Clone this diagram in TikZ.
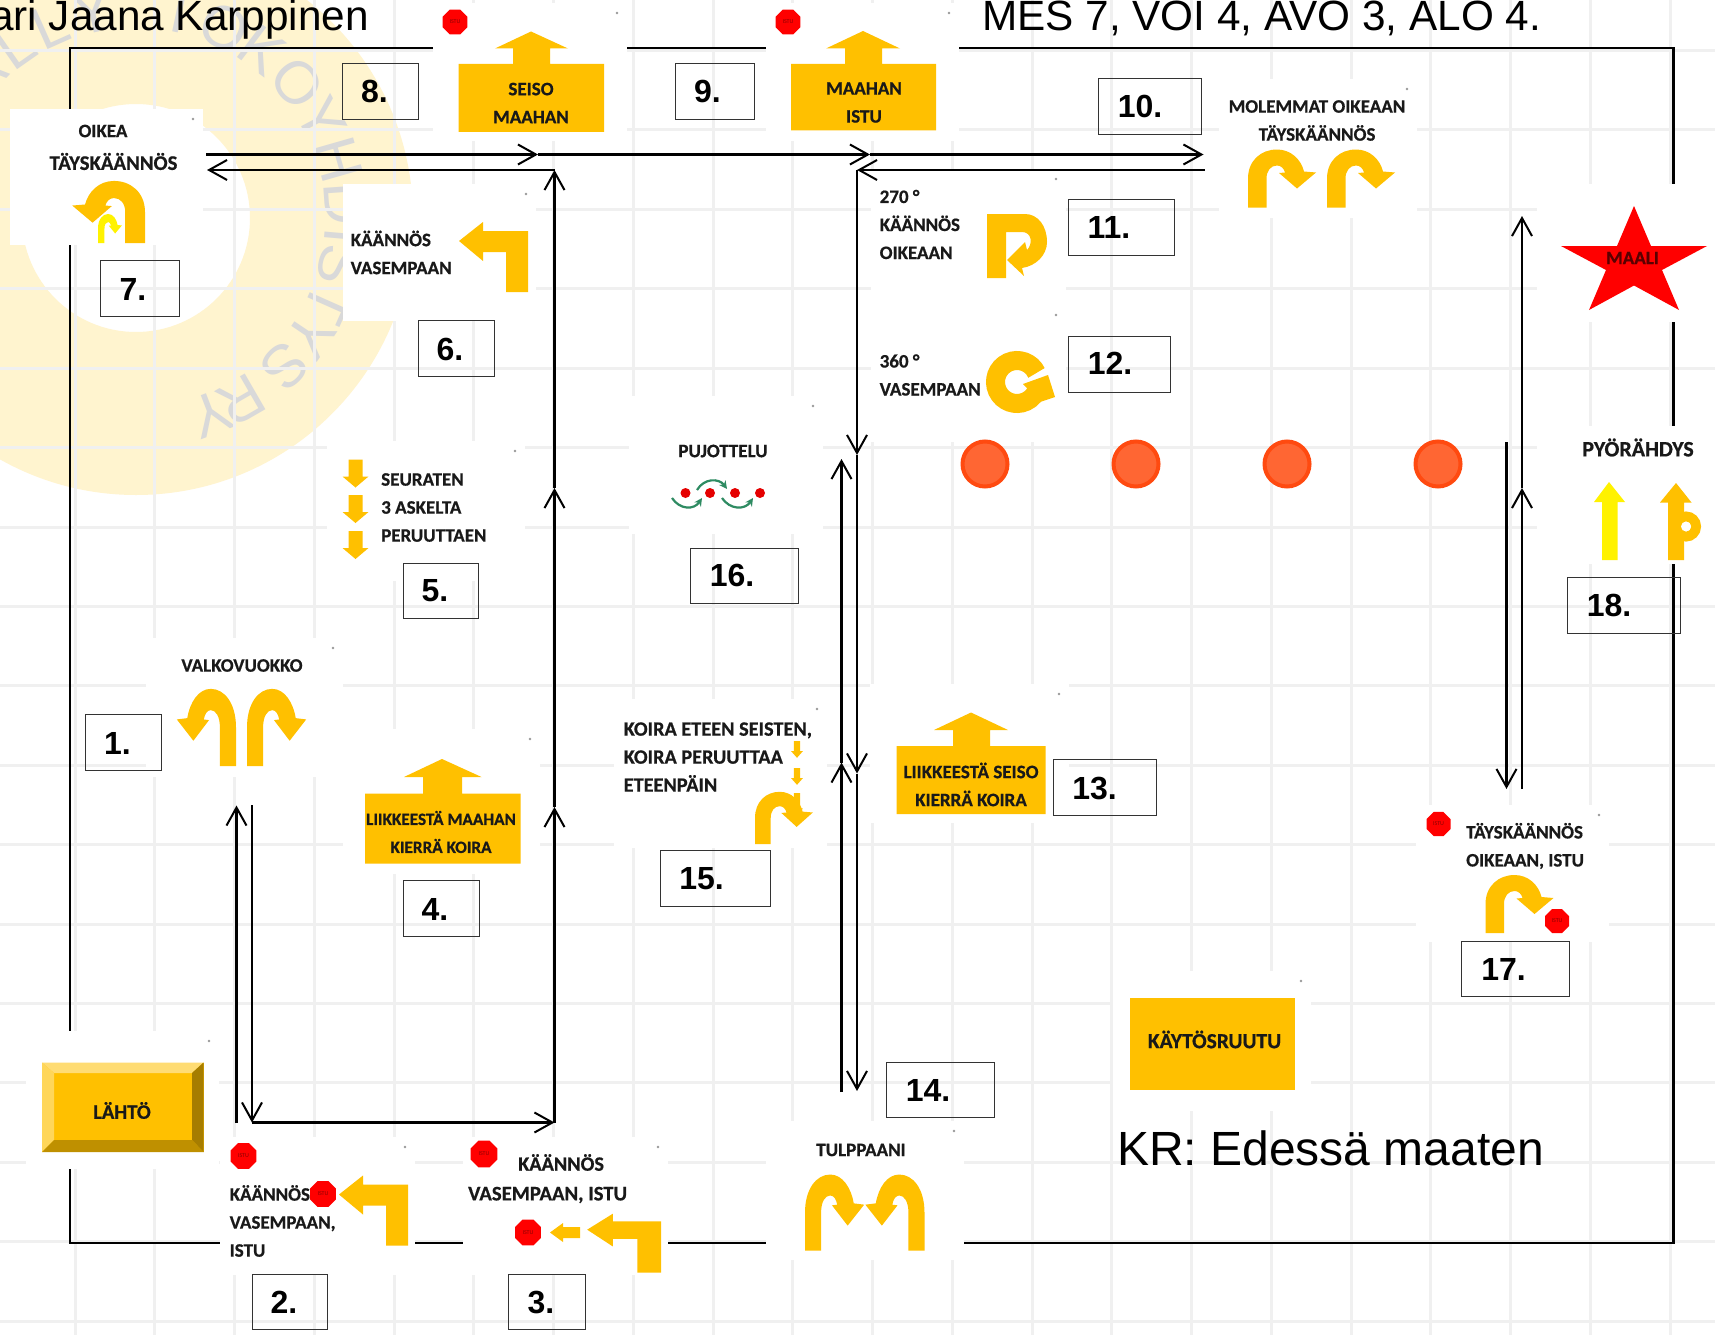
\documentclass[tikz,border=0pt]{standalone}
\usepackage{fontspec}
\setmainfont{Liberation Sans}
\newfontfamily\carlito[BoldFeatures={FakeBold=0.6}]{Carlito}
\usetikzlibrary{arrows.meta,shapes.geometric}
\definecolor{amber}{HTML}{FFC000}
\definecolor{ringtone}{HTML}{FFF4CF}
\definecolor{gridtone}{HTML}{F0F0F0}
\definecolor{conefill}{HTML}{FF6633}
\definecolor{coneedge}{HTML}{FF4A10}
\definecolor{weavegreen}{HTML}{2E8B62}
\newcommand{\lblsize}{\carlito\bfseries\fontsize{19}{28}\selectfont}

\tikzset{
  lbl/.style={font=\lblsize,text=black!90,align=center,inner sep=0pt},
  lblleft/.style={lbl,align=left,anchor=west},
  fs/.style={font=\carlito\bfseries\fontsize{#1}{28}\selectfont},
  numtxt/.style={font=\bfseries\fontsize{32}{32}\selectfont,inner sep=0pt},
  numbox/.style={draw=black!80,line width=1pt},
  bigtxt/.style={font=\fontsize{42.3}{42}\selectfont,inner sep=0pt},
  wmark/.style={font=\fontsize{60}{60}\selectfont,text=black!15,inner sep=0pt},
  stopsign/.style={regular polygon,regular polygon sides=8,fill=red,text=red!55!black,
    inner sep=0pt,font=\carlito\fontsize{6}{6}\selectfont},
  cone/.style={circle,fill=conefill,draw=coneedge,line width=4pt,minimum size=45pt,inner sep=0pt},
  weave/.style={weavegreen,line width=2.2pt,-{Stealth[length=8pt,width=8pt]}},
  arr/.style={line width=2.2pt,-{Straight Barb[length=18pt,width=20pt,line width=2pt]}},
  pics/uright/.style={code={
    \path[pic actions] (0,0) -- (0,-29) .. controls (0,-47) and (13,-58) .. (29,-58)
      .. controls (43,-58) and (53,-48) .. (56,-36) -- (68,-35) -- (49,-19) -- (31,-34.5) -- (37,-35)
      .. controls (36,-39) and (33,-42) .. (29,-42) .. controls (23,-42) and (18.5,-37) .. (18.5,-29)
      -- (18.5,0) -- cycle;
  }},
  pics/lturn/.style={code={
    \path[pic actions] (0,0) -- (0,-61) -- (-45,-61) -- (-45,-70) -- (-69,-51) -- (-45,-31)
      -- (-45,-40) -- (-22,-40) -- (-22,0) -- cycle;
  }},
  pics/godown/.style={code={
    \path[pic actions] (-7,0) -- (7,0) -- (7,17) -- (13,17) -- (0,28) -- (-13,17) -- (-7,17) -- cycle;
  }},
}

\begin{document}
\begin{tikzpicture}[x=1pt,y=-1pt]
  \useasboundingbox (0,0) rectangle (1715,1335);
  \clip (0,0) rectangle (1715,1335);
  \fill[white] (0,0) rectangle (1715,1335);

  % watermark ring
  \fill[ringtone,even odd rule] (136,218) circle (277) (136,218) circle (114);
  \foreach \i/\ltr/\a in {1/R/-148,2/A/-137,3/L/-125,4/L/-114,5/Y/-102,6/T/-78,7/O/-65,8/K/-53,9/O/-40,
      10/Y/-28,11/H/-16,12/D/-4,13/I/5,14/S/13,15/T/24,16/Y/34,17/S/45,18/R/60,19/Y/69}
    \node[wmark,rotate=-(\a+90)] (wm\i) at ({136+210*cos(\a)},{218+210*sin(\a)}) {\ltr};

  % grid
  \foreach \k in {-1,...,15}
    \draw[gridtone,line width=3pt] (0,130+79.4*\k) -- (1715,130+79.4*\k);
  \foreach \k in {0,...,20}
    \draw[gridtone,line width=3pt] (75+79.75*\k,0) -- (75+79.75*\k,1335);

  % course frame
  \draw[line width=2.2pt] (70,48) rectangle (1673.5,1243);

  % white cards
  \foreach \xa/\ya/\xb/\yb in {10/109/203/245, 433/3/627/141, 766/3/959/141, 1219/79/1417/218,
      343/184/536/321, 871/169/1066/305, 871/305/1066/442, 629/396/823/534, 327/441/525/581,
      146/638/343/777, 343/729/540/874, 614/699/827/848, 870/684/1069/823, 1416/805/1609/942,
      1113/971/1311/1111, 766/1121/964/1260, 220/1137/415/1275, 463/1137/668/1275, 26/1031/219/1169} {
    \fill[white] (\xa,\ya) rectangle (\xb,\yb);
    \fill[black!40] (\xb-10,\ya+10) circle (1.3);
  }
  \fill[white] (1537,184) rectangle (1715,322);
  \fill[white] (1537,426) rectangle (1715,564);

  % titles
  \node[bigtxt,anchor=base east] (judge) at (369,31) {ari Jaana Karppinen};
  \node[bigtxt,anchor=base west] (classes) at (982,31) {MES 7, VOI 4, AVO 3, ALO 4.};
  \node[bigtxt,anchor=base west,font=\fontsize{48}{48}\selectfont] (kr) at (1117,1165.5) {KR: Edessä maaten};

  % start
  \fill[amber] (42,1062.5) rectangle (203.5,1152);
  \fill[amber!55!white] (42,1062.5) -- (203.5,1062.5) -- (192,1073) -- (54,1073) -- cycle;
  \fill[amber!65!white] (42,1062.5) -- (54,1073) -- (54,1140) -- (42,1152) -- cycle;
  \fill[amber!65!black] (203.5,1062.5) -- (192,1073) -- (192,1140) -- (203.5,1152) -- cycle;
  \fill[amber!75!black] (42,1152) -- (54,1140) -- (192,1140) -- (203.5,1152) -- cycle;
  \node[lbl,fs=20.5] (start) at (122,1110.5) {LÄHTÖ};

  % 1 valkovuokko
  \node[lbl] (t1) at (242,665.5) {VALKOVUOKKO};
  \pic[fill=amber,xscale=.87,yscale=1.33] at (247,766) {uright};
  \pic[fill=amber,xscale=-.87,yscale=1.33] at (236,766) {uright};

  % 2
  \node[stopsign,minimum size=28] (s2a) at (243.5,1156) {ISTU};
  \node[lblleft] (t2) at (229.5,1221) {KÄÄNNÖS\\VASEMPAAN,\\ISTU};
  \node[stopsign,minimum size=28] (s2b) at (323,1194) {ISTU};
  \pic[fill=amber] at (408,1245.5) {lturn};

  % 3
  \node[stopsign,minimum size=29] (s3a) at (484,1154) {ISTU};
  \node[lblleft,fs=20.3] (t3a) at (518,1162.5) {KÄÄNNÖS};
  \node[lblleft,fs=20.7] (t3b) at (468,1195) {VASEMPAAN, ISTU};
  \node[stopsign,minimum size=28] (s3b) at (528,1232.5) {ISTU};
  \fill[amber] (580,1227) -- (563,1227) -- (563,1223) -- (550,1232.5) -- (563,1242) -- (563,1238) -- (580,1238) -- cycle;
  \pic[fill=amber,xscale=1.07,yscale=.84] at (661,1272.5) {lturn};

  % 4
  \fill[amber] (365,793.5) -- (423,793.5) -- (423,777) -- (404,777) -- (442,759) -- (481.5,777) -- (462,777) -- (462,793.5) -- (520.5,793.5) -- (520.5,863.5) -- (365,863.5) -- cycle;
  \node[lbl,fs=17.2] (t4) at (441,832) {LIIKKEESTÄ MAAHAN\\KIERRÄ KOIRA};

  % 5
  \pic[fill=amber] at (355.5,459.5) {godown};
  \pic[fill=amber] at (355.5,495) {godown};
  \pic[fill=amber] at (355.5,531) {godown};
  \node[lblleft] (t5) at (381,507.5) {SEURATEN\\3 ASKELTA\\PERUUTTAEN};

  % 6
  \node[lblleft] (t6) at (350.5,252.5) {KÄÄNNÖS\\VASEMPAAN};
  \pic[fill=amber] at (528,292) {lturn};

  % 7
  \node[lbl] (t7a) at (103,131) {OIKEA};
  \node[lbl,fs=20.8] (t7b) at (113.5,161.5) {TÄYSKÄÄNNÖS};
  \pic[fill=amber,xscale=-1.07,yscale=1.07] at (145,243) {uright};
  \pic[fill=yellow,xscale=.35,yscale=.5] at (98,243) {uright};

  % 8 and 9
  \node[stopsign,minimum size=27] (s8) at (455,22) {ISTU};
  \fill[amber] (458.5,64) -- (513,64) -- (513,48.5) -- (495,48.5) -- (531,31.5) -- (568,48.5) -- (550,48.5) -- (550,64) -- (604,64) -- (604,132) -- (458.5,132) -- cycle;
  \node[lbl] (t8) at (531,103) {SEISO\\MAAHAN};
  \node[stopsign,minimum size=27] (s9) at (788,22) {ISTU};
  \fill[amber] (791,64) -- (845,64) -- (845,48.5) -- (826,48.5) -- (863,31) -- (900,48.5) -- (882,48.5) -- (882,64) -- (936,64) -- (936,130.5) -- (791,130.5) -- cycle;
  \node[lbl] (t9) at (864,102.5) {MAAHAN\\ISTU};

  % 10
  \node[lbl] (t10) at (1317,120.5) {MOLEMMAT OIKEAAN\\TÄYSKÄÄNNÖS};
  \pic[fill=amber] at (1248,207.5) {uright};
  \pic[fill=amber] at (1327,207.5) {uright};

  % 11 and 12
  \node[lblleft] (t11) at (879.5,224.5) {270 °\\KÄÄNNÖS\\OIKEAAN};
  \fill[amber] (987,278) -- (987,214) -- (1025,214) .. controls (1038,214) and (1047,226) .. (1047,242)
    .. controls (1047,255) and (1036,266) .. (1022,268) -- (1024,276) -- (1007,260) -- (1025,242) -- (1027,250)
    .. controls (1033,244) and (1032,232) .. (1022,232) -- (1006,232) -- (1006,278) -- cycle;
  \node[lblleft] (t12) at (879.5,375) {360 °\\VASEMPAAN};
  \draw[amber,line width=19pt] (1017,382) ++(-25:21.5) arc[start angle=-25,end angle=-345,radius=21.5];
  \fill[amber] (1023,384) -- (1048,375) -- (1055,397) -- (1040,402) -- cycle;

  % 13
  \fill[amber] (896.5,746) -- (953,746) -- (953,730) -- (934,730) -- (971,712.5) -- (1008,730) -- (990,730) -- (990,746) -- (1045.5,746) -- (1045.5,814) -- (896.5,814) -- cycle;
  \node[lbl] (t13) at (971,784.5) {LIIKKEESTÄ SEISO\\KIERRÄ KOIRA};

  % 14
  \node[lbl] (t14) at (861,1150) {TULPPAANI};
  \pic[fill=amber,xscale=.87,yscale=1.31] at (805,1250.5) {uright};
  \pic[fill=amber,xscale=-.87,yscale=1.31] at (924.5,1250.5) {uright};

  % 15
  \node[lblleft,fs=20.3] (t15) at (623.5,757) {KOIRA ETEEN SEISTEN,\\KOIRA PERUUTTAA\\ETEENPÄIN};
  \pic[fill=amber,xscale=.85,yscale=.9] at (755,844) {uright};
  \pic[fill=amber,xscale=.45,yscale=.6] at (797,741) {godown};
  \pic[fill=amber,xscale=.45,yscale=.6] at (797,768) {godown};
  \pic[fill=amber,xscale=.45,yscale=.9] at (797,793) {godown};

  % 16
  \node[lbl] (t16) at (723,451) {PUJOTTELU};
  \foreach \i/\dx in {1/685.5,2/710,3/735,4/760}
    \node[circle,fill=red!90!black,minimum size=10pt,inner sep=0pt] (dot\i) at (\dx,493) {};
  \draw[weave] (672,498) .. controls (680,510) and (694,510) .. (702,498);
  \draw[weave] (697,490) .. controls (704,478) and (719,478) .. (727,489);
  \draw[weave] (722,498) .. controls (730,510) and (745,510) .. (753,498);

  % 17
  \node[stopsign,minimum size=26] (s17a) at (1438.5,824) {ISTU};
  \node[lblleft] (t17) at (1466,846) {TÄYSKÄÄNNÖS\\OIKEAAN, ISTU};
  \pic[fill=amber] at (1485.5,933) {uright};
  \node[stopsign,minimum size=26] (s17b) at (1557,921) {ISTU};

  % 18
  \node[lbl,fs=22] (t18) at (1638,447.5) {PYÖRÄHDYS};
  \fill[yellow] (1609,482) -- (1625,502) -- (1617.5,502) -- (1617.5,560) -- (1602,560) -- (1602,502) -- (1594,502) -- cycle;
  \fill[amber] (1676,483) -- (1691.5,502.5) -- (1684,502.5) -- (1684,560) -- (1668,560) -- (1668,502.5) -- (1660,502.5) -- cycle;
  \draw[amber,line width=10pt] (1686,526.5) circle (10);
  \fill[white] (1686,526.5) circle (5);

  % goal
  \fill[red] (1634,206) -- (1651,246) -- (1707,246) -- (1662,270) -- (1679,310) -- (1634,285.5) -- (1589,310) -- (1606,270) -- (1561,246) -- (1617,246) -- cycle;
  \node[lbl,text=red!35!black] (goal) at (1632.5,258) {MAALI};

  % work box
  \fill[amber] (1130,998) rectangle (1295,1089.5);
  \node[lbl,fs=21.5] (work) at (1214.5,1039.5) {KÄYTÖSRUUTU};

  % cones
  \foreach \i/\cx in {1/985,2/1136,3/1287,4/1438}
    \node[cone] (cone\i) at (\cx,464) {};

  % numbers
  \foreach \nam/\xa/\ya/\xb/\yb/\tx/\ty in {1/85/714/161/770/117.5/743, 2/252/1274/327.5/1329/284/1302.5,
      3/508.5/1274/585/1329/541/1302.5, 4/403/880.5/479/936/435/909.5, 5/403/563/478/618/435/591,
      6/418/320/494/376/450/349, 7/100/260/179/316/133/289, 8/342/64/418.5/119.5/374.5/91.5,
      9/675/63.5/754/119.5/707.5/91.5, 10/1098/78.5/1201/134.5/1140/106.5, 11/1068/199.5/1174.5/255.5/1109/227.5,
      12/1068/336/1170/392/1110/363.5, 13/1053/759.5/1156/815/1094.5/788, 14/886.5/1062.5/994.5/1117.5/928/1090.5,
      15/660/850/770/906/701.5/879, 16/690.5/548/798/603.5/732/575.5, 17/1461/941/1569/996.5/1503.5/969.5,
      18/1567/577.5/1680/633/1609/605.5} {
    \draw[numbox] (\xa,\ya) rectangle (\xb,\yb);
    \node[numtxt] (n\nam) at (\tx,\ty) {\nam.};
  }

  % route points
  \coordinate (c1up) at (236.5,1123);
  \coordinate (c1top) at (236.5,805.5);
  \coordinate (c1dn) at (252,805);
  \coordinate (c2) at (252,1122.5);
  \coordinate (c3) at (554.5,1122.5);
  \coordinate (c4) at (554.5,807);
  \coordinate (c5) at (554.5,488);
  \coordinate (c6) at (554.5,170);
  \coordinate (c7) at (207,170);
  \coordinate (c7out) at (206,154.5);
  \coordinate (c8) at (538,154.5);
  \coordinate (c9) at (870,154.5);
  \coordinate (c10) at (1203.5,154.5);
  \coordinate (c10out) at (1204.5,170);
  \coordinate (c11) at (857,170);
  \coordinate (c12) at (857,455);
  \coordinate (c13) at (857,773.5);
  \coordinate (c14) at (857,1091);
  \coordinate (c14out) at (841.5,1092);
  \coordinate (c15) at (841.5,762.5);
  \coordinate (c16) at (841.5,459);
  \coordinate (c16out) at (1506.5,442);
  \coordinate (c17) at (1506.5,789);
  \coordinate (c17out) at (1522,789);
  \coordinate (c18) at (1522,488);
  \coordinate (cgoal) at (1522,216);

  % route
  \draw[arr] (c1up) -- (c1top);
  \draw[arr] (c1dn) -- (c2);
  \draw[arr] (c2) -- (c3);
  \draw[arr] (c3) -- (c4);
  \draw[arr] (c4) -- (c5);
  \draw[arr] (c5) -- (c6);
  \draw[arr] (c6) -- (c7);
  \draw[arr] (c7out) -- (c8);
  \draw[arr] (c8) -- (c9);
  \draw[arr] (c9) -- (c10);
  \draw[arr] (c10out) -- (c11);
  \draw[arr] (c11) -- (c12);
  \draw[arr] (c12) -- (c13);
  \draw[arr] (c13) -- (c14);
  \draw[arr] (c14out) -- (c15);
  \draw[arr] (c15) -- (c16);
  \draw[arr] (c16out) -- (c17);
  \draw[arr] (c17out) -- (c18);
  \draw[arr] (c18) -- (cgoal);
\end{tikzpicture}
\end{document}
